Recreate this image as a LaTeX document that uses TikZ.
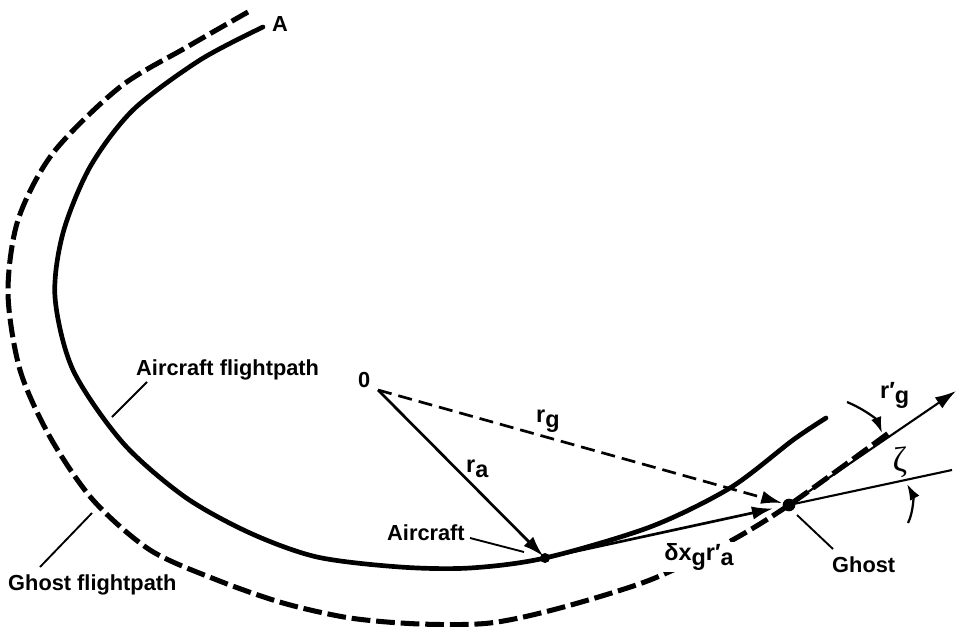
\documentclass[tikz,border=0pt]{standalone}
\usepackage{fontspec}
\setmainfont{Liberation Sans}
\newfontfamily\grkfont{Liberation Serif}
\usetikzlibrary{arrows.meta}
\newcommand\subs[1]{\raisebox{-5pt}{#1}}
\begin{document}
\begin{tikzpicture}[x=0.3mm,y=-0.3mm,
  lbl/.style={font=\fontsize{18.6}{21}\selectfont\bfseries, inner sep=0pt, anchor=base west},
  sym/.style={font=\fontsize{20}{22}\selectfont\bfseries, inner sep=0pt, anchor=base west},
  fpath/.style={line width=4pt, line cap=round},
  gpath/.style={line width=4.3pt, dash pattern=on 16pt off 5pt},
  thinln/.style={line width=1.8pt},
  vec/.style={line width=2.3pt, -{Latex[length=6.3mm,width=4mm]}},
  arcarrow/.style={line width=1.9pt, -{Latex[length=4.8mm,width=3.2mm]}},
  lead/.style={line width=1.6pt}]
\useasboundingbox (0,0) rectangle (958,627);

% key points
\coordinate (O) at (378,390);
\coordinate (ac) at (545,558);
\coordinate (gh) at (789,505);
\coordinate (tg) at (956,391);
\coordinate (zt) at (952,470);

% aircraft flightpath
\draw[fpath] plot[smooth,tension=0.5] coordinates {(263,27) (200,60) (133,110) (90,167) (63,233) (55,297) (73,370) (123,443) (185,497) (250,533) (317,557) (400,567) (470,568) (545,558) (650,527) (730,488) (793,440) (826,418)};

% ghost flightpath
\draw[gpath] plot[smooth,tension=0.5] coordinates {(248,12) (187,47) (120,87) (53,153) (18,220) (8,293) (20,370) (50,437) (93,500) (150,550) (217,580) (283,603) (350,618) (420,624) (490,623) (560,608) (650,580) (727,543) (789,505) (890,432)};

% vectors
\draw[vec, shorten >=2pt] (O) -- (ac);
\draw[vec, dash pattern=on 12pt off 6pt, shorten >=6pt] (O) -- (gh);
\draw[vec, shorten >=14pt] (ac) -- (gh);
\draw[thinln] (gh) -- (zt);
\draw[thinln, -{Latex[length=6.3mm,width=4mm]}] (gh) -- (tg);

% dots
\fill (ac) circle (1.5mm);
\fill (gh) circle (1.9mm);

% angle arrows
\coordinate (z1) at (908,523);
\coordinate (z2) at (907,484);
\draw[arcarrow] (z1) .. controls (914,511) and (913,495) .. (z2);
\coordinate (p1) at (847,402);
\coordinate (p2) at (882,433);
\draw[arcarrow] (p1) .. controls (866,410) and (877,420) .. (p2);

% labels
\node[lbl] (lA) at (272,32) {A};
\node[lbl] (lafp) at (136,375) {Aircraft flightpath};
\node[lbl] (lgfp) at (8,590) {Ghost flightpath};
\node[lbl] (lac) at (387,540) {Aircraft};
\node[lbl] (lgh) at (832,572) {Ghost};
\node[lbl] (lO) at (358,387) {0};
\node[sym] (lrg) at (536,422) {r\subs{g}};
\node[sym] (lra) at (466,472) {r\subs{a}};
\node[sym, fill=white, inner sep=1pt] (ldx) at (663,560) {{\fontspec{Liberation Sans}δ}x\subs{g}r′\subs{a}};
\node[sym] (lrpg) at (880,398) {r′\subs{g}};
\node[font=\fontsize{30}{32}\selectfont\grkfont, inner sep=0pt] (lz) at (900,462) {ζ};

% leaders
\coordinate (a1) at (147,382); \coordinate (a2) at (112,417);
\draw[lead] (a1) -- (a2);
\coordinate (g1) at (92,513); \coordinate (g2) at (40,567);
\draw[lead] (g1) -- (g2);
\coordinate (c1) at (470,538); \coordinate (c2) at (524,552);
\draw[lead] (c1) -- (c2);
\coordinate (h1) at (797,515); \coordinate (h2) at (833,549);
\draw[lead] (h1) -- (h2);
\end{tikzpicture}
\end{document}
